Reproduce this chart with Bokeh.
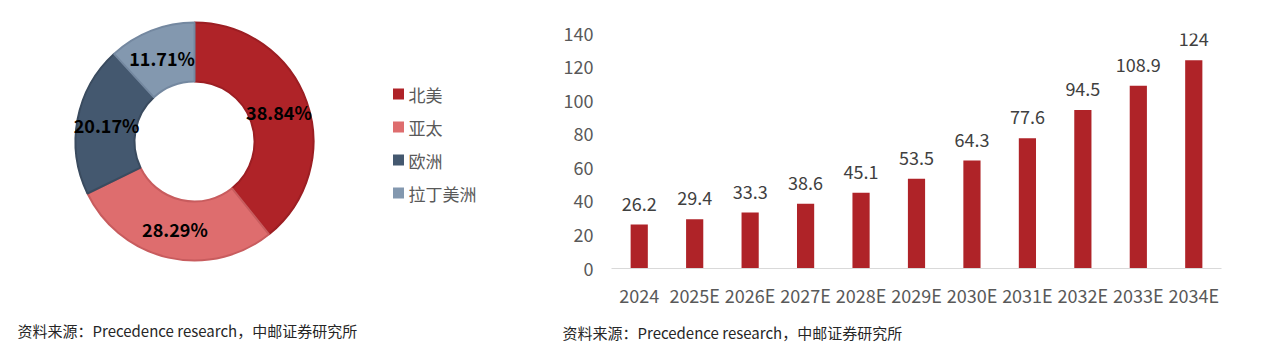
import math
from bokeh.plotting import figure
from bokeh.models import Range1d, FactorRange, FixedTicker, Label, ColumnDataSource, Title
from bokeh.layouts import row
from bokeh.embed import file_html
from bokeh.resources import INLINE
from bokeh.core.properties import value

# ---- data ----
regions = ["北美", "亚太", "欧洲", "拉丁美洲"]
shares = [38.84, 28.29, 20.17, 11.71]
region_colors = ["#AF2328", "#DE6D6E", "#44586F", "#8398AF"]
region_edges = ["#9C1E23", "#C85C5E", "#3A4B5F", "#7488A0"]

years = ["2024", "2025E", "2026E", "2027E", "2028E", "2029E", "2030E", "2031E", "2032E", "2033E", "2034E"]
market = [26.2, 29.4, 33.3, 38.6, 45.1, 53.5, 64.3, 77.6, 94.5, 108.9, 124]
y_ticks = [0, 20, 40, 60, 80, 100, 120, 140]

source_text = "资料来源：Precedence research，中邮证券研究所"

FONT = "Noto Sans CJK SC"
H = 352

# ---- left: donut ----
W1 = 540
p1 = figure(width=W1, height=H, x_range=Range1d(0, W1), y_range=Range1d(0, H),
            output_backend="svg", toolbar_location=None, min_border=0)
p1.frame_align = False
p1.axis.visible = False
p1.grid.visible = False
p1.outline_line_color = None

cx, cy = 194, H - 141
r_in, r_out = 60, 119
total = sum(shares)
starts, ends, lx, ly, labels = [], [], [], [], []
cum = 0.0
for s in shares:
    a0 = math.pi / 2 - 2 * math.pi * cum / total
    a1 = math.pi / 2 - 2 * math.pi * (cum + s) / total
    starts.append(a0)
    ends.append(a1)
    mid = (a0 + a1) / 2
    rm = (r_in + r_out) / 2
    lx.append(cx + rm * math.cos(mid))
    ly.append(cy + rm * math.sin(mid))
    labels.append(f"{s:.2f}%")
    cum += s

src1 = ColumnDataSource(dict(start=starts, end=ends, fill=region_colors, edge=region_edges,
                             lx=lx, ly=ly, lab=labels))
p1.annular_wedge(x=cx, y=cy, inner_radius=r_in, outer_radius=r_out,
                 start_angle="start", end_angle="end", direction="clock",
                 fill_color="fill", line_color="edge", line_width=2, source=src1)
p1.text(x="lx", y="ly", text="lab", source=src1, text_align="center", text_baseline="middle",
        text_font=value(FONT), text_font_style="bold", text_font_size="18px", text_color="#000000")

# legend
leg_y = [H - 93.5, H - 126.5, H - 159.5, H - 192.5]
src_leg = ColumnDataSource(dict(y=leg_y, name=regions, fill=region_colors))
p1.rect(x=398, y="y", width=11, height=11, fill_color="fill", line_color=None, source=src_leg)
p1.text(x=408, y="y", text="name", source=src_leg, text_align="left", text_baseline="middle",
        text_font=value(FONT), text_font_size="17px", text_color="#595959")

p1.add_layout(Label(x=17, y=H - 330, text=source_text, x_units="data", y_units="data",
                    text_baseline="middle", text_font=FONT, text_font_size="15px",
                    text_color="#262626"))

# ---- right: bar chart ----
W2 = 1268 - W1
p2 = figure(width=W2, height=H, x_range=FactorRange(*years, range_padding=0),
            y_range=Range1d(0, 140), output_backend="svg", toolbar_location=None,
            min_border_left=71, min_border_right=47, min_border_top=33, min_border_bottom=84)
p2.frame_align = False
p2.outline_line_color = None
p2.grid.visible = False

src2 = ColumnDataSource(dict(year=years, v=market, lab=[f"{v:g}" for v in market]))
p2.vbar(x="year", top="v", width=0.31, fill_color="#AF2328", line_color=None, source=src2)
p2.text(x="year", y="v", text="lab", source=src2, text_align="center", text_baseline="middle",
        y_offset=-21, text_font=value(FONT), text_font_size="18px", text_color="#404040")

p2.yaxis.ticker = FixedTicker(ticks=y_ticks)
p2.yaxis.axis_line_color = None
p2.yaxis.major_tick_line_color = None
p2.yaxis.minor_tick_line_color = None
p2.yaxis.major_tick_out = 0
p2.yaxis.major_label_standoff = 18
p2.yaxis.major_label_text_font = FONT
p2.yaxis.major_label_text_font_size = "18px"
p2.yaxis.major_label_text_color = "#595959"

p2.xaxis.axis_line_color = "#D9D9D9"
p2.xaxis.axis_line_width = 1
p2.xaxis.major_tick_line_color = None
p2.xaxis.minor_tick_line_color = None
p2.xaxis.major_tick_out = 0
p2.xaxis.major_label_standoff = 13
p2.xaxis.major_label_text_font = FONT
p2.xaxis.major_label_text_font_size = "18px"
p2.xaxis.major_label_text_color = "#595959"

p2.add_layout(Title(text=source_text, align="left", offset=22 - 71, standoff=19,
                    text_font=FONT, text_font_size="15px", text_font_style="normal",
                    text_color="#262626"), "below")

layout = row(p1, p2, spacing=0)
open("out.html", "w").write(file_html(layout, INLINE))
